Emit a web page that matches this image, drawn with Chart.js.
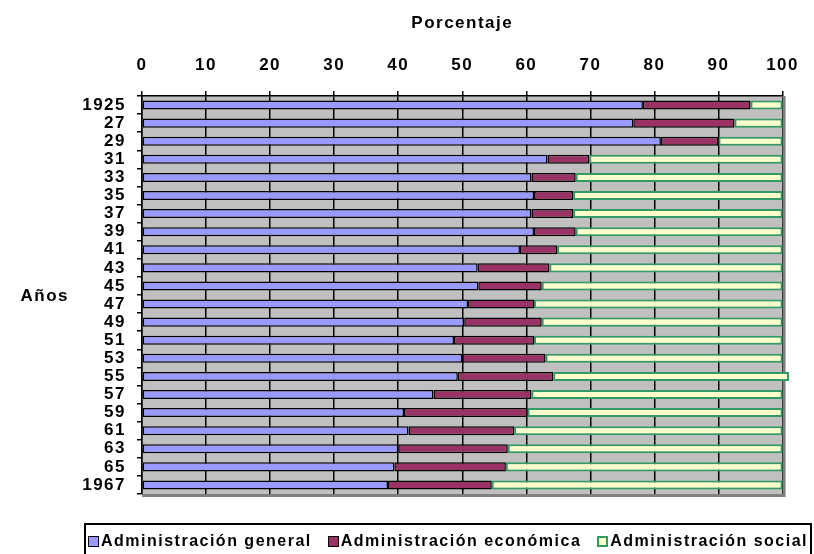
<!DOCTYPE html>
<html>
<head>
<meta charset="utf-8">
<script src="https://cdn.jsdelivr.net/npm/chart.js@4"></script>
<style>
  body { margin: 0; background: #fff; overflow: hidden; }
  #wrap { position: relative; width: 814px; height: 554px; overflow: hidden; }
  #legend {
    position: absolute; left: 84px; top: 523px; width: 728px; height: 40px;
    border: 2px solid #000; box-sizing: border-box;
    display: flex; justify-content: center; align-items: flex-start;
    padding-top: 7px; gap: 16px;
    font: bold 16px "Liberation Sans", Arial, sans-serif; letter-spacing: 1.5px; color: #000;
  }
  #legend .item { display: flex; align-items: center; white-space: nowrap; }
  #legend .box { width: 11px; height: 11px; box-sizing: border-box; margin-right: 2px; }
</style>
</head>
<body>
<div id="wrap">
  <canvas id="chart" width="814" height="554"></canvas>
  <div id="legend"></div>
</div>
<script>
// Data (percent of total per year)
const years = ['1925', '27', '29', '31', '33', '35', '37', '39', '41', '43', '45',
               '47', '49', '51', '53', '55', '57', '59', '61', '63', '65', '1967'];
const admGeneral = [78.2, 76.7, 81.0, 63.3, 60.8, 61.2, 60.8, 61.2, 59.0, 52.4, 52.5,
                    50.9, 50.3, 48.7, 50.0, 49.3, 45.5, 40.9, 41.6, 40.0, 39.4, 38.4];
const admEconomica = [16.8, 15.8, 9.0, 6.5, 6.9, 6.1, 6.5, 6.5, 5.8, 11.2, 9.9,
                      10.3, 12.1, 12.5, 13.0, 14.9, 15.3, 19.3, 16.5, 17.1, 17.4, 16.2];
const admSocial = [5.0, 7.5, 10.0, 30.2, 32.3, 32.7, 32.7, 32.3, 35.2, 36.4, 37.6,
                   38.8, 37.6, 38.8, 37.0, 36.8, 39.2, 39.8, 41.9, 42.9, 43.2, 45.4];

const FONT = 'Liberation Sans, Arial, sans-serif';
const SPACING = '1.5px';

// gray plot background, frame edges and the "Años" label
const framePlugin = {
    id: 'frame',
    beforeLayout(chart) {
        chart.ctx.letterSpacing = SPACING;
    },
    beforeDraw(chart) {
        const { ctx, chartArea: a } = chart;
        ctx.letterSpacing = SPACING;
        ctx.save();
        ctx.fillStyle = '#c0c0c0';
        ctx.fillRect(a.left, a.top, a.right - a.left, a.bottom - a.top);
        ctx.restore();
    },
    beforeDatasetsDraw(chart) {
        const { ctx, chartArea: a } = chart;
        ctx.save();
        ctx.strokeStyle = '#808080';
        ctx.lineWidth = 3;
        ctx.beginPath();
        ctx.moveTo(a.right + 1.5, a.top);
        ctx.lineTo(a.right + 1.5, a.bottom + 1.5);
        ctx.lineTo(a.left, a.bottom + 1.5);
        ctx.stroke();
        ctx.restore();
    },
    afterDraw(chart) {
        const { ctx } = chart;
        ctx.save();
        ctx.fillStyle = '#000';
        ctx.font = 'bold 17px ' + FONT;
        ctx.textAlign = 'right';
        ctx.textBaseline = 'middle';
        ctx.fillText('Años', 69, 296);
        ctx.restore();
    }
};

// legend built as html from the chart's datasets
const htmlLegend = {
    id: 'htmlLegend',
    afterUpdate(chart) {
        const box = document.getElementById('legend');
        box.innerHTML = '';
        chart.data.datasets.forEach(ds => {
            const item = document.createElement('span');
            item.className = 'item';
            const sw = document.createElement('span');
            sw.className = 'box';
            sw.style.background = ds.backgroundColor;
            sw.style.border = (ds.borderWidth >= 2 ? '2px' : '1.5px') + ' solid ' + ds.borderColor;
            const txt = document.createElement('span');
            txt.textContent = ds.label;
            item.appendChild(sw);
            item.appendChild(txt);
            box.appendChild(item);
        });
    }
};

const ctx = document.getElementById('chart').getContext('2d');
new Chart(ctx, {
    type: 'bar',
    data: {
        labels: years,
        datasets: [
            {
                label: 'Administración general',
                data: admGeneral,
                backgroundColor: '#9999ff',
                borderColor: '#000',
                borderWidth: 1.5
            },
            {
                label: 'Administración económica',
                data: admEconomica,
                backgroundColor: '#993366',
                borderColor: '#000',
                borderWidth: 1.5
            },
            {
                label: 'Administración social',
                data: admSocial,
                backgroundColor: '#ffffcc',
                borderColor: '#339966',
                borderWidth: 2,
                clip: false
            }
        ]
    },
    options: {
        responsive: false,
        animation: false,
        devicePixelRatio: 1,
        indexAxis: 'y',
        events: [],
        datasets: {
            bar: {
                barPercentage: 0.5,
                categoryPercentage: 1,
                borderSkipped: false
            }
        },
        layout: {
            padding: { left: 0, top: 0, right: 30, bottom: 60 }
        },
        plugins: {
            tooltip: { enabled: false },
            legend: { display: false }
        },
        scales: {
            x: {
                position: 'top',
                stacked: true,
                min: 0,
                max: 100,
                ticks: {
                    stepSize: 10,
                    color: '#000',
                    font: { family: FONT, size: 17, weight: 'bold' },
                    padding: 15,
                    maxRotation: 0
                },
                grid: { color: '#000', lineWidth: 1.5, tickLength: 5 },
                border: { color: '#000', width: 1.5 },
                title: {
                    display: true,
                    text: 'Porcentaje',
                    color: '#000',
                    font: { family: FONT, size: 17, weight: 'bold' },
                    padding: { top: 13, bottom: 0 }
                },
                afterFit(scale) { scale.height = 96; }
            },
            y: {
                stacked: true,
                grid: {
                    drawOnChartArea: false,
                    color: '#000',
                    lineWidth: 1.5,
                    tickLength: 5,
                    offset: true
                },
                border: { color: '#000', width: 1.5 },
                ticks: {
                    color: '#000',
                    font: { family: FONT, size: 17, weight: 'bold' },
                    padding: 11,
                    autoSkip: false
                },
                afterFit(scale) { scale.width = 142; }
            }
        }
    },
    plugins: [framePlugin, htmlLegend]
});
</script>
</body>
</html>
